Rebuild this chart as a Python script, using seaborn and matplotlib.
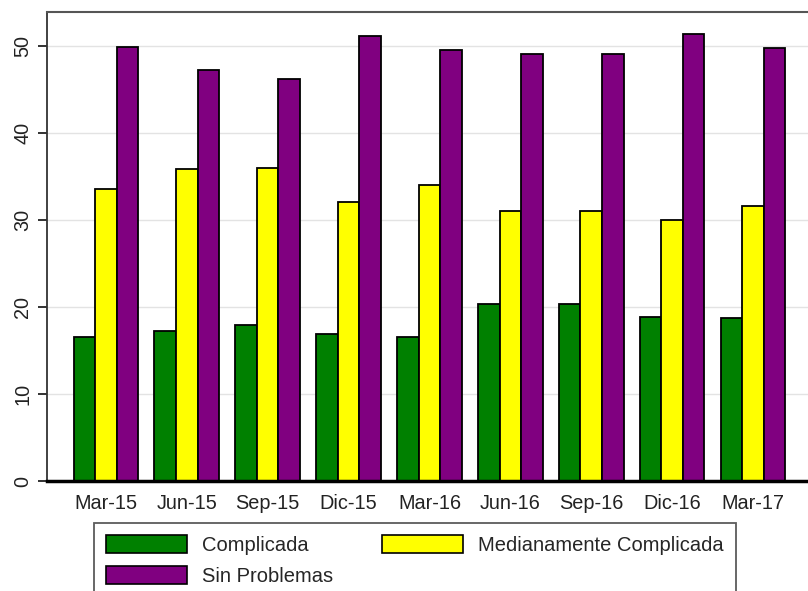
import pandas as pd
import matplotlib
matplotlib.use("Agg")
import matplotlib.pyplot as plt
from matplotlib.patches import Patch
import seaborn as sns

# Chart data
periods = ["Mar-15", "Jun-15", "Sep-15", "Dic-15", "Mar-16",
           "Jun-16", "Sep-16", "Dic-16", "Mar-17"]
complicada = [16.6, 17.2, 17.9, 16.9, 16.6, 20.3, 20.3, 18.9, 18.7]
medianamente = [33.6, 35.8, 36.0, 32.1, 34.0, 31.0, 31.0, 30.0, 31.6]
sin_problemas = [49.9, 47.2, 46.2, 51.1, 49.5, 49.1, 49.1, 51.3, 49.7]
series_names = ["Complicada", "Medianamente Complicada", "Sin Problemas"]
colors = ["#008000", "#ffff00", "#800080"]

# Long format table for seaborn
df = pd.DataFrame({
    "Periodo": periods * 3,
    "Valor": complicada + medianamente + sin_problemas,
    "Serie": [s for s in series_names for _ in periods]})

sns.set_style("white")
plt.rcParams["font.family"] = ["Liberation Sans", "DejaVu Sans"]

fig = plt.figure(figsize=(8.08, 5.91), dpi=100)
ax = fig.add_axes([0.058, 0.186, 0.942, 0.794])

sns.barplot(
    data=df, x="Periodo", y="Valor", hue="Serie",
    order=periods, hue_order=series_names,
    palette=dict(zip(series_names, colors)),
    edgecolor="black", linewidth=1.3, width=0.8,
    saturation=1, ax=ax, legend=False)

ax.set_xlim(-0.73, 8.68)
ax.set_ylim(0, 53.9)
ax.set_yticks([0, 10, 20, 30, 40, 50])
ax.set_xlabel("")
ax.set_ylabel("")
ax.yaxis.grid(True, color="#e3e3e3", linewidth=1)
ax.set_axisbelow(True)

for lbl in ax.get_yticklabels():
    lbl.set_rotation(90)
    lbl.set_va("center")
ax.tick_params(axis="y", length=6.5, width=1.3, color="#222222",
               labelsize=14.3, labelcolor="#222222", pad=4, left=True)
ax.tick_params(axis="x", length=0, labelsize=14.3, labelcolor="#222222", pad=9)

ax.spines["top"].set_color("#555555")
ax.spines["top"].set_linewidth(1.5)
ax.spines["left"].set_color("#333333")
ax.spines["left"].set_linewidth(1.3)
ax.spines["bottom"].set_color("black")
ax.spines["bottom"].set_linewidth(2.5)
ax.spines["right"].set_visible(False)

# Legend in row-major order
order = [0, 2, 1]
handles = [Patch(facecolor=colors[i], edgecolor="black", linewidth=1.2) for i in order]
labels = [series_names[i] for i in order]
leg = fig.legend(
    handles, labels, ncol=2, loc="upper left",
    bbox_to_anchor=(94 / 808, 1 - 523 / 591),
    fontsize=14.5, frameon=True, fancybox=False, shadow=False,
    handlelength=4.0, handleheight=1.0, handletextpad=0.75,
    columnspacing=2.45, labelspacing=0.55, borderpad=0.6, borderaxespad=0)
leg.get_frame().set_edgecolor("#333333")
leg.get_frame().set_linewidth(1.3)

fig.savefig("out.png", dpi=100)
